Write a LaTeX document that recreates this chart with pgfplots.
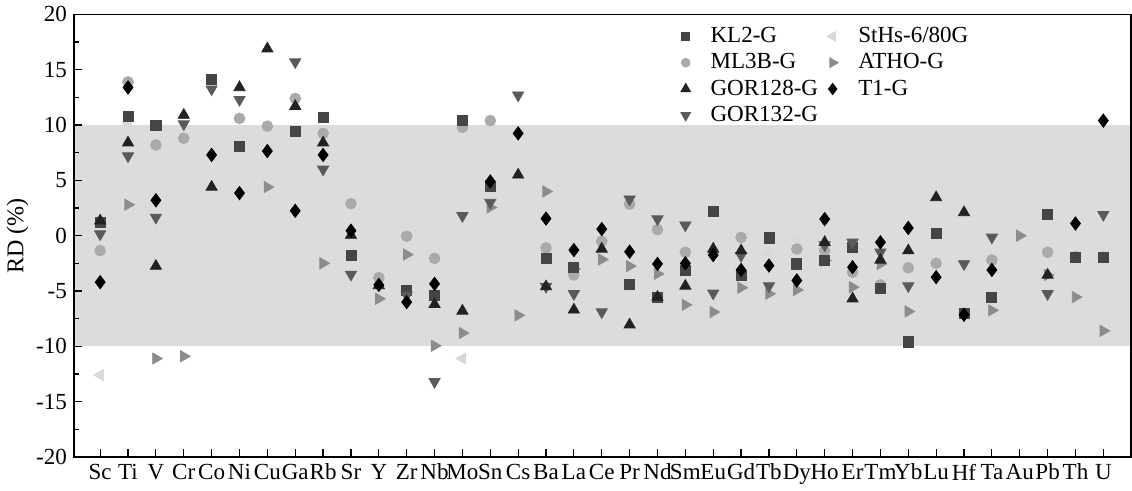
\documentclass[border=0pt]{standalone}
\usepackage{fontspec}
\setmainfont{Liberation Serif}
\usepackage{pgfplots}
\pgfplotsset{compat=1.18}
\definecolor{cKL}{HTML}{454545}
\definecolor{cML}{HTML}{AAAAAA}
\definecolor{cGA}{HTML}{222222}
\definecolor{cGB}{HTML}{5A5A5A}
\definecolor{cSt}{HTML}{D9D9D9}
\definecolor{cAT}{HTML}{8C8C8C}
\definecolor{cBand}{HTML}{DCDCDC}
\begin{document}
\begin{tikzpicture}
\begin{axis}[
  scale only axis, width=528pt, height=221pt,
  xmin=-0.94, xmax=37.0, ymin=-20, ymax=20,
  xtick={0,...,36},
  xticklabels={Sc,Ti,V,Cr,Co,Ni,Cu,Ga,Rb,Sr,Y,Zr,Nb,Mo,Sn,Cs,Ba,La,Ce,Pr,Nd,Sm,Eu,Gd,Tb,Dy,Ho,Er,Tm,Yb,Lu,Hf,Ta,Au,Pb,Th,U},
  ytick={-20,-15,...,20}, minor ytick={-17.5,-12.5,...,17.5},
  xtick pos=left, ytick pos=left, tick align=inside,
  major tick length=4pt, minor tick length=2.5pt,
  ylabel={RD (\%)}, ylabel style={font=\fontsize{12}{14}\selectfont, yshift=-3pt},
  ticklabel style={font=\fontsize{11.5}{13}\selectfont},
  /pgf/number format/assume math mode=true,
  axis line style={line width=0.8pt}, every tick/.style={line width=0.6pt, black},
  legend style={at={(0.568,0.99)}, anchor=north west, draw=none, fill=none,
    font=\fontsize{11.5}{12.8}\selectfont, row sep=0pt,
    /tikz/every odd column/.append style={column sep=8pt},
    /tikz/every even column/.append style={column sep=2.5pt}},
  legend columns=4, transpose legend, legend cell align=left,
  axis on top,
]
\addplot[draw=none, fill=cBand, forget plot, mark=none] coordinates {(-0.94,-10) (37,-10) (37,10) (-0.94,10)} -- cycle;
% StHs-6/80G
\addplot[forget plot, only marks, mark=triangle*, mark options={rotate=90, fill=cSt, draw=cSt}, mark size=3.2pt] coordinates {
(0,-12.6) (1,10.2) (13,-11.1) (19,-4.45) (24,-1.65) (25,-0.3) (27,-1.0) (31,-2.55) (28,-1.5)};
% ATHO-G
\addplot[forget plot, only marks, mark=triangle*, mark options={rotate=-90, fill=cAT, draw=cAT}, mark size=3.2pt] coordinates {
(1,2.8) (2,-11.1) (3,-10.9) (6,4.4) (8,-2.5) (10,-5.7) (11,-1.7) (12,-9.95) (13,-8.8) (14,2.55) (15,-7.2) (16,4.0) (17,-3.0) (18,-2.15) (19,-2.75) (20,-3.45) (21,-6.25) (22,-6.9) (23,-4.7) (24,-5.25) (25,-4.9) (26,-2.25) (27,-4.65) (28,-2.55) (29,-6.85) (32,-6.75) (33,0.0) (34,-3.55) (35,-5.55) (36,-8.6)};
% ML3B-G
\addplot[forget plot, only marks, mark=*, mark options={fill=cML, draw=cML}, mark size=2.7pt] coordinates {
(0,-1.35) (1,13.9) (2,8.2) (3,8.8) (5,10.6) (6,9.9) (7,12.4) (8,9.25) (9,2.9) (10,-3.8) (11,-0.05) (12,-2.05) (13,9.8) (14,10.4) (16,-1.1) (17,-3.55) (18,-0.5) (19,2.85) (20,0.55) (21,-1.5) (23,-0.15) (25,-1.2) (26,-1.35) (27,-3.3) (28,-4.45) (29,-2.9) (30,-2.5) (32,-2.2) (34,-1.5) (35,-1.9) (36,-1.95)};
% KL2-G
\addplot[forget plot, only marks, mark=square*, mark options={fill=cKL, draw=cKL}, mark size=2.5pt] coordinates {
(0,1.2) (1,10.8) (2,10.0) (4,14.1) (5,8.1) (7,9.4) (8,10.7) (9,-1.8) (11,-4.95) (12,-5.4) (13,10.4) (14,4.45) (16,-2.05) (17,-2.9) (19,-4.4) (20,-5.55) (21,-3.15) (22,2.2) (23,-3.55) (24,-0.2) (25,-2.55) (26,-2.25) (27,-1.1) (28,-4.8) (29,-9.6) (30,0.25) (31,-7.0) (32,-5.55) (34,1.9) (35,-2.0) (36,-2.0)};
% GOR132-G
\addplot[forget plot, only marks, mark=triangle*, mark options={rotate=180, fill=cGB, draw=cGB}, mark size=3.2pt] coordinates {
(0,0.15) (1,7.2) (2,1.65) (3,10.1) (4,13.25) (5,12.3) (7,15.7) (8,6.0) (9,-3.5) (11,-5.4) (12,-13.2) (13,1.8) (14,3.0) (15,12.7) (16,-4.6) (17,-5.25) (18,-6.9) (19,3.3) (20,1.5) (21,0.95) (22,-5.2) (23,-1.8) (24,-4.55) (26,-0.85) (27,-0.6) (28,-1.5) (29,-4.55) (31,-2.55) (32,-0.15) (34,-5.25) (36,1.9)};
% GOR128-G
\addplot[forget plot, only marks, mark=triangle*, mark options={fill=cGA, draw=cGA}, mark size=3.2pt] coordinates {
(0,1.35) (1,8.4) (2,-2.75) (3,10.9) (4,4.4) (5,13.4) (6,16.9) (7,11.7) (8,8.4) (9,0.05) (10,-4.5) (12,-6.2) (13,-6.8) (15,5.5) (16,-4.6) (17,-6.7) (18,-1.2) (19,-8.05) (20,-5.55) (21,-4.55) (22,-1.2) (23,-1.35) (26,-0.6) (27,-5.7) (28,-2.2) (29,-1.35) (30,3.45) (31,2.1) (34,-3.55)};
% T1-G
\addplot[forget plot, only marks, mark=diamond*, mark options={fill=black, draw=black}, mark size=3.3pt] coordinates {
(0,-4.2) (1,13.4) (2,3.2) (4,7.3) (5,3.85) (6,7.65) (7,2.25) (8,7.3) (9,0.45) (10,-4.45) (11,-6.0) (12,-4.35) (14,4.9) (15,9.25) (16,1.55) (17,-1.3) (18,0.6) (19,-1.45) (20,-2.55) (21,-2.5) (22,-1.75) (23,-3.1) (24,-2.7) (25,-4.05) (26,1.5) (27,-2.85) (28,-0.6) (29,0.7) (30,-3.75) (31,-7.15) (32,-3.1) (35,1.1) (36,10.4)};
% legend
\addlegendimage{only marks, mark=square*, mark options={fill=cKL, draw=cKL}, mark size=2pt}
\addlegendentry{KL2-G}
\addlegendimage{only marks, mark=*, mark options={fill=cML, draw=cML}, mark size=2.2pt}
\addlegendentry{ML3B-G}
\addlegendimage{only marks, mark=triangle*, mark options={fill=cGA, draw=cGA}, mark size=2.8pt}
\addlegendentry{GOR128-G}
\addlegendimage{only marks, mark=triangle*, mark options={rotate=180, fill=cGB, draw=cGB}, mark size=2.8pt}
\addlegendentry{GOR132-G}
\addlegendimage{only marks, mark=triangle*, mark options={rotate=90, fill=cSt, draw=cSt}, mark size=2.8pt}
\addlegendentry{StHs-6/80G}
\addlegendimage{only marks, mark=triangle*, mark options={rotate=-90, fill=cAT, draw=cAT}, mark size=2.8pt}
\addlegendentry{ATHO-G}
\addlegendimage{only marks, mark=diamond*, mark options={fill=black, draw=black}, mark size=2.8pt}
\addlegendentry{T1-G}
\end{axis}
\end{tikzpicture}
\end{document}
